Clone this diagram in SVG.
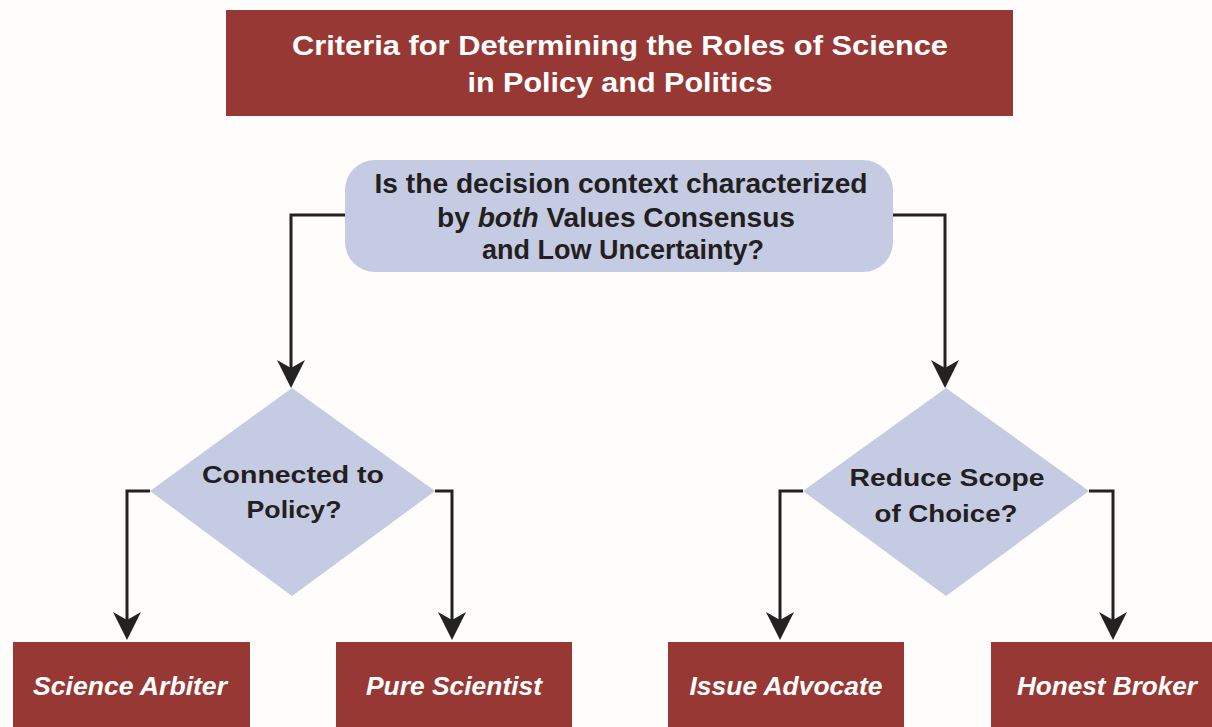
<svg xmlns="http://www.w3.org/2000/svg" width="1212" height="727" viewBox="0 0 1212 727">
  <style>
    .banner { fill: #973835; }
    .question { fill: #c5cbe3; }
    .wire { fill: none; stroke: #222; stroke-width: 3; }
    .light { font-family: "Liberation Sans", Arial, sans-serif; font-weight: bold; fill: #ffffff; text-anchor: middle; }
    .dark { font-family: "Liberation Sans", Arial, sans-serif; font-weight: bold; fill: #231f20; text-anchor: middle; }
    .role { font-style: italic; font-size: 25px; }
  </style>
  <defs>
    <marker id="stealth" markerUnits="userSpaceOnUse" markerWidth="32" markerHeight="32" viewBox="0 -16 30 32" refX="10" refY="0" orient="auto">
      <path d="M28,0 L0,-14 L8,0 L0,14 Z" fill="#222"/>
    </marker>
  </defs>

  <rect width="1212" height="727" fill="#fefdfc"/>

  <!-- title banner -->
  <g id="title">
    <rect class="banner" x="226" y="10" width="787" height="106"/>
    <text class="light" x="620" y="55" font-size="28" textLength="656" lengthAdjust="spacingAndGlyphs">Criteria for Determining the Roles of Science</text>
    <text class="light" x="620" y="92" font-size="28" textLength="305" lengthAdjust="spacingAndGlyphs">in Policy and Politics</text>
  </g>

  <!-- connectors -->
  <g id="connectors">
    <path class="wire" d="M345,215 H291 V370" marker-end="url(#stealth)"/>
    <path class="wire" d="M893,215 H945 V370" marker-end="url(#stealth)"/>
    <path class="wire" d="M150,491 H127 V622" marker-end="url(#stealth)"/>
    <path class="wire" d="M435,491 H452 V622" marker-end="url(#stealth)"/>
    <path class="wire" d="M803,491 H780 V622" marker-end="url(#stealth)"/>
    <path class="wire" d="M1089,491 H1113 V622" marker-end="url(#stealth)"/>
  </g>

  <!-- root question -->
  <g id="q-context">
    <rect class="question" x="345" y="160" width="548" height="112" rx="30" ry="30"/>
    <text class="dark" x="621" y="193" font-size="28" textLength="493" lengthAdjust="spacingAndGlyphs">Is the decision context characterized</text>
    <text class="dark" x="616" y="227" font-size="28" textLength="358" lengthAdjust="spacingAndGlyphs">by <tspan font-style="italic">both</tspan> Values Consensus</text>
    <text class="dark" x="623" y="259" font-size="28" textLength="282" lengthAdjust="spacingAndGlyphs">and Low Uncertainty?</text>
  </g>

  <!-- left decision -->
  <g id="q-connected">
    <polygon class="question" points="292,388 435,491 292,596 150,491"/>
    <text class="dark" x="293" y="483" font-size="24" textLength="182" lengthAdjust="spacingAndGlyphs">Connected to</text>
    <text class="dark" x="294" y="518" font-size="24" textLength="95" lengthAdjust="spacingAndGlyphs">Policy?</text>
  </g>

  <!-- right decision -->
  <g id="q-scope">
    <polygon class="question" points="946,388 1089,491 946,596 803,491"/>
    <text class="dark" x="947" y="486" font-size="24" textLength="195" lengthAdjust="spacingAndGlyphs">Reduce Scope</text>
    <text class="dark" x="946" y="522" font-size="24" textLength="143" lengthAdjust="spacingAndGlyphs">of Choice?</text>
  </g>

  <!-- outcome roles -->
  <g id="science-arbiter">
    <rect class="banner" x="13" y="642" width="237" height="85"/>
    <text class="light role" x="130" y="695" textLength="194" lengthAdjust="spacingAndGlyphs">Science Arbiter</text>
  </g>
  <g id="pure-scientist">
    <rect class="banner" x="336" y="642" width="236" height="85"/>
    <text class="light role" x="454" y="695" textLength="176" lengthAdjust="spacingAndGlyphs">Pure Scientist</text>
  </g>
  <g id="issue-advocate">
    <rect class="banner" x="668" y="642" width="236" height="85"/>
    <text class="light role" x="786" y="695" textLength="193" lengthAdjust="spacingAndGlyphs">Issue Advocate</text>
  </g>
  <g id="honest-broker">
    <rect class="banner" x="991" y="642" width="221" height="85"/>
    <text class="light role" x="1107" y="695" textLength="180" lengthAdjust="spacingAndGlyphs">Honest Broker</text>
  </g>
</svg>
